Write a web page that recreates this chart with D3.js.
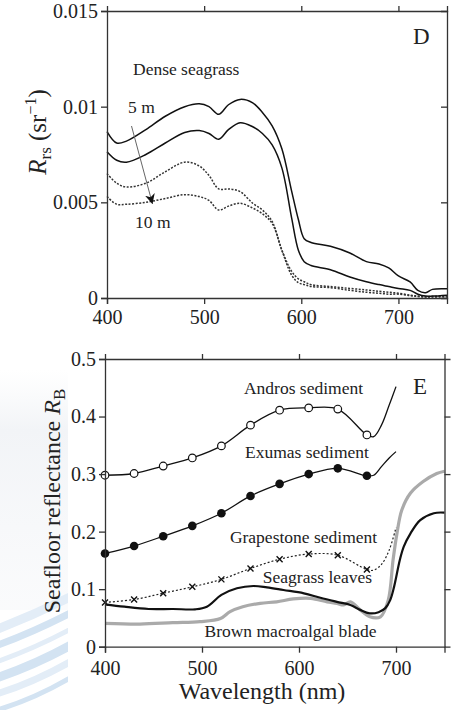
<!DOCTYPE html>
<html>
<head>
<meta charset="utf-8">
<script src="https://cdn.jsdelivr.net/npm/d3@7"></script>
<style>
  body { margin: 0; background: #fff; }
  svg { display: block; }
  .axis text { font-family: "Liberation Serif", serif; font-size: 20px; fill: #222; }
  .axis line, .axis path { stroke: #333; stroke-width: 1.3; }
  .note { font-family: "Liberation Serif", serif; font-size: 17.5px; fill: #222; }
  .title { font-family: "Liberation Serif", serif; fill: #222; }
</style>
</head>
<body>
<script>
// panel D: dense seagrass Rrs at two depths
const rrsWl = [400, 410, 420, 440, 460, 480, 495, 505, 515, 525, 537, 550, 560, 570, 580, 590, 597, 603, 610, 630, 650, 667, 680, 690, 700, 712, 720, 728, 735, 750]
const rrs5a = [.0087, .0081, .0082, .0088, .0095, .0100, .01015, .0100, .0096, .0101, .01038, .0102, .0097, .0090, .0078, .0056, .0041, .0031, .0029, .0027, .00235, .0019, .00178, .00157, .00115, .00084, .0004, .00028, .00045, .00048]
const rrs5b = [.00765, .0072, .0071, .0075, .0081, .00865, .00875, .0086, .0083, .0088, .00916, .00895, .0086, .0080, .0068, .0042, .0025, .0019, .0017, .00148, .0011, .00085, .0007, .0006, .0005, .0004, .0002, .0001, .0001, .00015]
const rrs10a = [.0065, .0060, .0058, .0060, .0066, .0071, .0069, .0064, .0057, .0057, .00556, .00495, .0046, .0040, .0025, .0014, .0010, .00085, .0007, .0006, .0005, .00042, .00035, .0003, .00025, .00015, .0001, .00007, .00008, .0001]
const rrs10b = [.0053, .0049, .0049, .0050, .0052, .0054, .0053, .0051, .0046, .0048, .00495, .0047, .0044, .0039, .0025, .0012, .0008, .0007, .0006, .00054, .0004, .0003, .00025, .0002, .0002, .00012, .00008, .00005, .00005, .00005]

// panel E: seafloor reflectance (first 10 points carry markers)
const sedWl = [400, 430, 460, 490, 520, 550, 580, 610, 640, 670, 677, 685, 693, 700]
const andros = [.298, .301, .314, .328, .349, .385, .411, .415, .413, .368, .365, .385, .42, .452]
const exumas = [.162, .175, .192, .21, .232, .262, .283, .300, .31, .297, .298, .313, .328, .339]
const grapestone = [.077, .082, .093, .104, .117, .136, .152, .161, .159, .134, .133, .143, .168, .207]
const leafWl = [400, 420, 445, 470, 493, 505, 520, 536, 553, 567, 584, 605, 622, 639, 653, 663, 673, 682, 689, 694, 698, 704, 708, 715, 725, 739, 750]
const leaves = [.0737, .0695, .0655, .0655, .065, .0695, .09, .1015, .1055, .103, .0985, .0928, .085, .078, .0725, .064, .058, .06, .067, .081, .104, .151, .174, .197, .22, .232, .233]
const bladeWl = [400, 436, 470, 498, 519, 529, 542, 560, 577, 594, 612, 629, 639, 646, 653, 663, 673, 684, 692, 697, 701, 706, 715, 728, 742, 750]
const blade = [.0406, .0394, .0417, .0435, .049, .061, .0695, .0754, .078, .083, .084, .078, .0754, .0725, .078, .064, .052, .052, .081, .151, .197, .2375, .267, .287, .301, .305]

const xTicks = [400, 500, 600, 700]
const yTicksD = [0, 0.005, 0.01, 0.015]
const yTicksE = [0, 0.1, 0.2, 0.3, 0.4, 0.5]

const WIDTH = 460
const HEIGHT = 710

const svg = d3.select("body")
    .append("svg")
    .attr("width", WIDTH)
    .attr("height", HEIGHT)

// faint watermark on the left edge
const defs = svg.append("defs")
const fade = defs.append("linearGradient").attr("id", "fade").attr("x1", 0).attr("y1", 0).attr("x2", 0).attr("y2", 1)
fade.append("stop").attr("offset", "0%").attr("stop-color", "#f4f6f8").attr("stop-opacity", 0)
fade.append("stop").attr("offset", "25%").attr("stop-color", "#f2f4f7").attr("stop-opacity", 1)
fade.append("stop").attr("offset", "100%").attr("stop-color", "#f7f8fa").attr("stop-opacity", 0.6)
const wm = svg.append("g")
wm.append("rect").attr("x", 0).attr("y", 370).attr("width", 68).attr("height", 240).attr("fill", "url(#fade)")
defs.append("clipPath").attr("id", "wmclip")
    .append("rect").attr("x", 0).attr("y", 590).attr("width", 68).attr("height", 120)
const streaks = wm.append("g").attr("clip-path", "url(#wmclip)")
for (let i = 0; i < 6; i++) {
    streaks.append("path")
        .attr("d", `M -10 ${712 - i * 16} Q 35 ${700 - i * 17} 80 ${672 - i * 16}`)
        .attr("fill", "none")
        .attr("stroke", i % 2 ? "#e3edf7" : "#d3e3f2")
        .attr("stroke-width", 5 + (i % 3) * 2)
}

// ---------- panel D ----------
const xD = d3.scaleLinear().domain([400, 750]).range([107, 447])
const yD = d3.scaleLinear().domain([0, 0.015]).range([298, 11])

const lineD = vals => d3.line()
    .x((d, i) => xD(rrsWl[i]))
    .y(d => yD(d))
    .curve(d3.curveCatmullRom)(vals)

const gD = svg.append("g")
gD.append("path").attr("d", lineD(rrs10b)).attr("fill", "none").attr("stroke", "#333").attr("stroke-width", 1.5).attr("stroke-dasharray", "2,1.5")
gD.append("path").attr("d", lineD(rrs10a)).attr("fill", "none").attr("stroke", "#333").attr("stroke-width", 1.5).attr("stroke-dasharray", "2,1.5")
gD.append("path").attr("d", lineD(rrs5b)).attr("fill", "none").attr("stroke", "#111").attr("stroke-width", 1.5)
gD.append("path").attr("d", lineD(rrs5a)).attr("fill", "none").attr("stroke", "#111").attr("stroke-width", 1.5)

svg.append("g").attr("class", "axis")
    .attr("transform", "translate(0," + yD(0) + ")")
    .call(d3.axisBottom(xD).tickValues(xTicks).tickSize(6).tickPadding(6))
svg.append("g").attr("class", "axis")
    .attr("transform", "translate(" + xD(400) + ",0)")
    .call(d3.axisLeft(yD).tickValues(yTicksD).tickSize(6).tickPadding(3).tickFormat(d => d === 0 ? "0" : String(d)))
svg.append("g").attr("class", "axis")
    .attr("transform", "translate(0," + yD(0.015) + ")")
    .call(d3.axisTop(xD).tickValues([500, 600, 700]).tickSize(5).tickFormat(""))
svg.append("g").attr("class", "axis")
    .attr("transform", "translate(" + xD(750) + ",0)")
    .call(d3.axisRight(yD).tickValues([0.005, 0.01]).tickSize(-6).tickFormat(""))

gD.append("text").attr("class", "note").attr("x", 133).attr("y", 75).text("Dense seagrass")
gD.append("text").attr("class", "note").attr("x", 128).attr("y", 113).text("5 m")
gD.append("text").attr("class", "note").attr("x", 135).attr("y", 228).text("10 m")
gD.append("text").attr("class", "title").attr("x", 413).attr("y", 44).attr("font-size", 23).text("D")

defs.append("marker")
    .attr("id", "arrow")
    .attr("viewBox", "0 0 10 10")
    .attr("refX", 10).attr("refY", 5)
    .attr("markerWidth", 10).attr("markerHeight", 10)
    .attr("markerUnits", "userSpaceOnUse")
    .attr("orient", "auto")
    .append("path").attr("d", "M0,0 L10,5 L0,10 L3,5 Z").attr("fill", "#111")
gD.append("line")
    .attr("x1", 131.5).attr("y1", 126)
    .attr("x2", 152.5).attr("y2", 204)
    .attr("stroke", "#666").attr("stroke-width", 1)
    .attr("marker-end", "url(#arrow)")

const labD = svg.append("text").attr("class", "title")
    .attr("transform", "translate(46,132) rotate(-90)")
    .attr("text-anchor", "middle")
    .attr("font-size", 25)
labD.append("tspan").attr("font-style", "italic").text("R")
labD.append("tspan").attr("font-size", 17).attr("dy", 5).text("rs")
labD.append("tspan").attr("dy", -5).text(" (sr")
labD.append("tspan").attr("font-size", 16).attr("dy", -10).text("−1")
labD.append("tspan").attr("dy", 10).text(")")

// ---------- panel E ----------
const xE = d3.scaleLinear().domain([400, 750]).range([105, 444.5])
const yE = d3.scaleLinear().domain([0, 0.5]).range([646.7, 359])

const lineE = (wl, vals) => d3.line()
    .x((d, i) => xE(wl[i]))
    .y(d => yE(d))
    .curve(d3.curveCatmullRom)(vals)

const gE = svg.append("g")
gE.append("path").attr("d", lineE(bladeWl, blade)).attr("fill", "none").attr("stroke", "#aaa").attr("stroke-width", 3.2)
gE.append("path").attr("d", lineE(leafWl, leaves)).attr("fill", "none").attr("stroke", "#111").attr("stroke-width", 2.2)
gE.append("path").attr("d", lineE(sedWl, grapestone)).attr("fill", "none").attr("stroke", "#222").attr("stroke-width", 1.2).attr("stroke-dasharray", "2,2")
gE.append("path").attr("d", lineE(sedWl, exumas)).attr("fill", "none").attr("stroke", "#111").attr("stroke-width", 1.3)
gE.append("path").attr("d", lineE(sedWl, andros)).attr("fill", "none").attr("stroke", "#111").attr("stroke-width", 1.3)

const mk = d3.range(10)
gE.selectAll(".andros").data(mk).enter().append("circle")
    .attr("cx", i => xE(sedWl[i])).attr("cy", i => yE(andros[i])).attr("r", 3.8)
    .attr("fill", "#fff").attr("stroke", "#111").attr("stroke-width", 1.2)
gE.selectAll(".exumas").data(mk).enter().append("circle")
    .attr("cx", i => xE(sedWl[i])).attr("cy", i => yE(exumas[i])).attr("r", 4.3)
    .attr("fill", "#111")
gE.selectAll(".grape").data(mk).enter().append("path")
    .attr("transform", i => "translate(" + xE(sedWl[i]) + "," + yE(grapestone[i]) + ")")
    .attr("d", "M-3,-3L3,3M-3,3L3,-3")
    .attr("stroke", "#111").attr("stroke-width", 1.4)

svg.append("g").attr("class", "axis")
    .attr("transform", "translate(0," + yE(0) + ")")
    .call(d3.axisBottom(xE).tickValues(xTicks).tickSize(6).tickPadding(8))
svg.append("g").attr("class", "axis")
    .attr("transform", "translate(" + xE(400) + ",0)")
    .call(d3.axisLeft(yE).tickValues(yTicksE).tickSize(6).tickPadding(3).tickFormat(d => d === 0 ? "0" : String(d)))
svg.append("g").attr("class", "axis")
    .attr("transform", "translate(0," + yE(0.5) + ")")
    .call(d3.axisTop(xE).tickValues([500, 600, 700]).tickSize(5).tickFormat(""))
svg.append("g").attr("class", "axis")
    .attr("transform", "translate(" + xE(750) + ",0)")
    .call(d3.axisRight(yE).tickValues([0.1, 0.2, 0.3, 0.4]).tickSize(6).tickFormat(""))

const notesE = [
    ["Andros sediment", 303.5, 394],
    ["Exumas sediment", 307, 458],
    ["Grapestone sediment", 303.5, 543],
    ["Seagrass leaves", 317.5, 583],
    ["Brown macroalgal blade", 290.5, 637]
]
gE.selectAll(".noteE").data(notesE).enter().append("text")
    .attr("class", "note")
    .attr("text-anchor", "middle")
    .attr("x", d => d[1]).attr("y", d => d[2])
    .text(d => d[0])
gE.append("text").attr("class", "title").attr("x", 413).attr("y", 394).attr("font-size", 23).text("E")

const labE = svg.append("text").attr("class", "title")
    .attr("transform", "translate(60,501) rotate(-90)")
    .attr("text-anchor", "middle")
    .attr("font-size", 24)
labE.append("tspan").text("Seafloor reflectance ")
labE.append("tspan").attr("font-style", "italic").text("R")
labE.append("tspan").attr("font-size", 17).attr("dy", 5).text("B")

svg.append("text").attr("class", "title")
    .attr("x", 262).attr("y", 699)
    .attr("text-anchor", "middle")
    .attr("font-size", 24)
    .text("Wavelength (nm)")
</script>
</body>
</html>
